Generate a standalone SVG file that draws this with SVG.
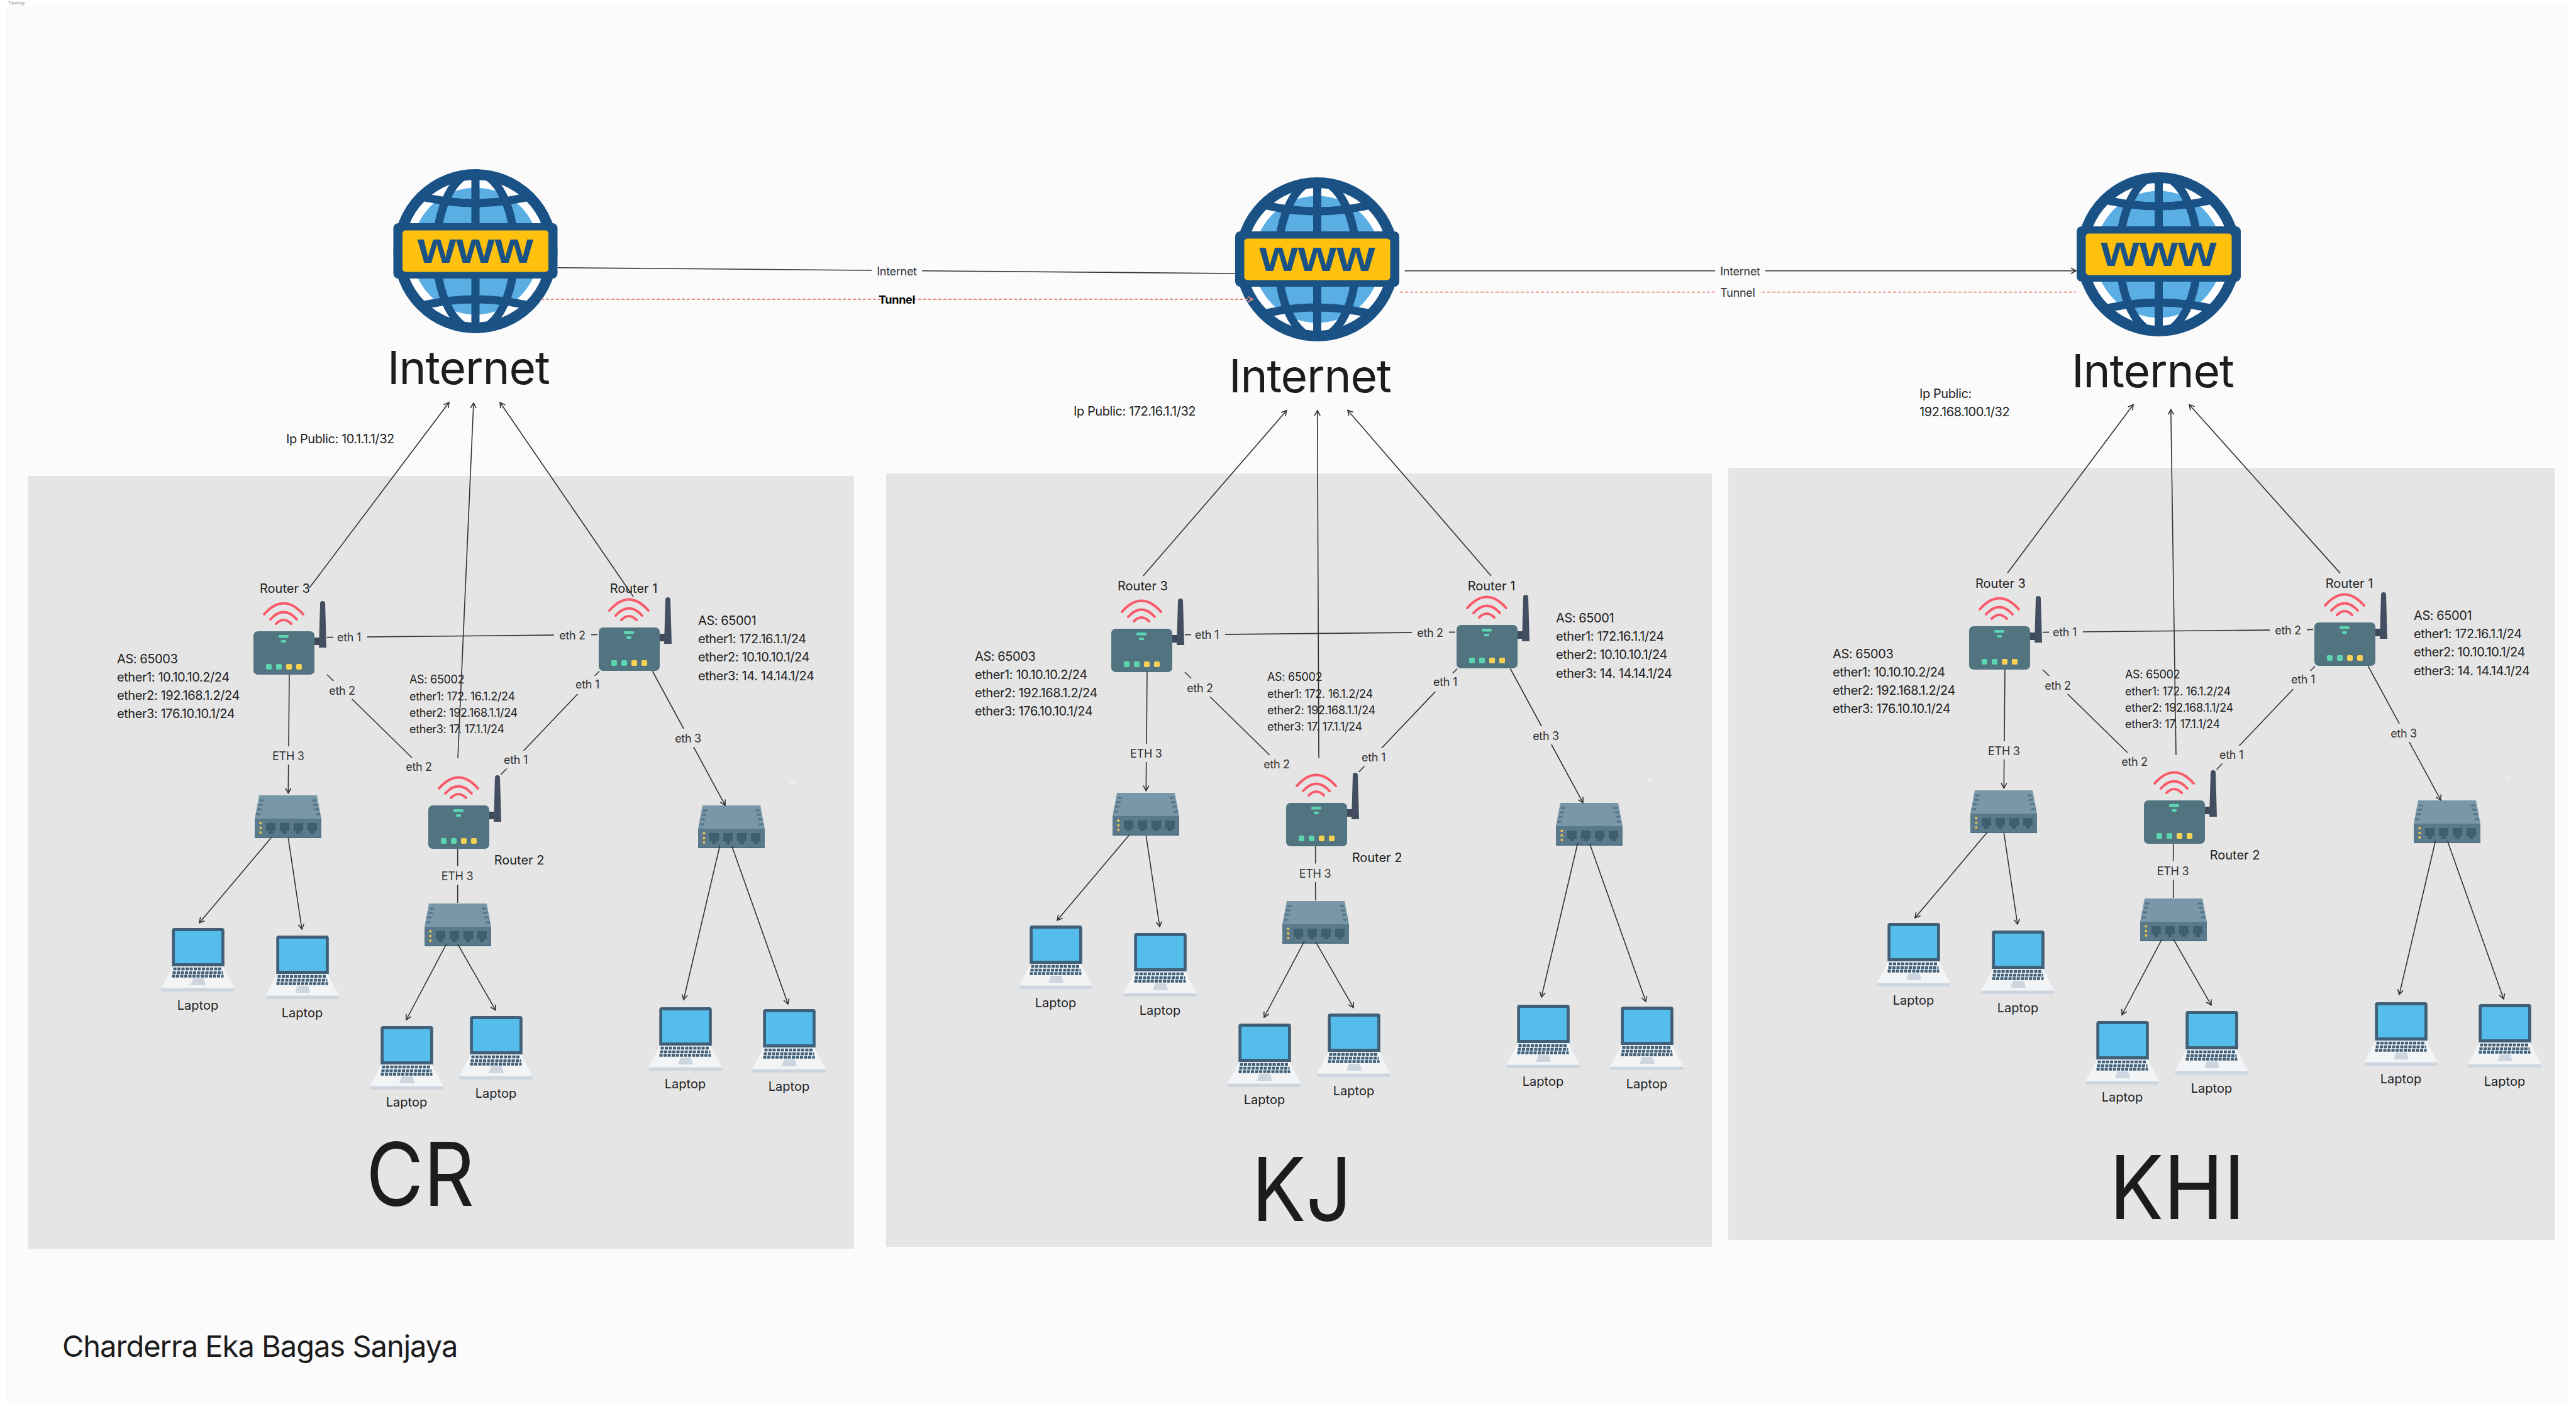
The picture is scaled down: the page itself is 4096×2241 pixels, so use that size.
<svg xmlns="http://www.w3.org/2000/svg" xmlns:xlink="http://www.w3.org/1999/xlink" width="4096" height="2241" viewBox="0 0 4096 2241">
<style>
text{font-family:Inter,"Liberation Sans",sans-serif;fill:#222}
.lb{font-size:20px}
.as{font-size:20px;letter-spacing:-.42px}
.as2{font-size:18px;letter-spacing:-.3px}
.cl{font-size:18px;letter-spacing:-.3px;text-anchor:middle;dominant-baseline:central;fill:#333}
.c{text-anchor:middle}
.big{font-size:73px;letter-spacing:-1.1px;fill:#1c1c1c}
.title{font-size:140px;fill:#1c1c1c}
.ln{stroke:#333;stroke-width:1.6;fill:none}
.arr{marker-end:url(#a)}
.tun{stroke:#e58a80;stroke-width:1.8;stroke-dasharray:5 3;fill:none}
.bg{fill:#e5e5e5}
.bg0{fill:#fbfbfb}
</style>
<defs>
<marker id="a" markerUnits="userSpaceOnUse" markerWidth="14" markerHeight="14" refX="10" refY="7" orient="auto"><path d="M2,2.500L10,7L2,11.500" fill="none" stroke="#333" stroke-width="1.600"/></marker>
<marker id="a2" markerUnits="userSpaceOnUse" markerWidth="14" markerHeight="14" refX="10" refY="7" orient="auto"><path d="M2,2.500L10,7L2,11.500" fill="none" stroke="#e58a80" stroke-width="1.800"/></marker>
<clipPath id="gc"><circle cx="130.500" cy="130.500" r="126"/></clipPath>
<g id="globe">
<circle cx="130.500" cy="130.500" r="126" fill="#fff"/>
<circle cx="130.500" cy="130.500" r="101" fill="#5aaee3"/>
<g clip-path="url(#gc)" fill="none" stroke="#1a5286" stroke-width="13">
<path d="M130.500 0V261"/>
<ellipse cx="130.500" cy="130.500" rx="62" ry="125"/>
<path d="M30 40Q130 68 231 40M30 221Q130 193 231 221"/>
</g>
<circle cx="130.500" cy="130.500" r="122" fill="none" stroke="#1a5286" stroke-width="17"/>
<rect x="0" y="86" width="261" height="88" rx="8" fill="#1a5286"/>
<rect x="14.500" y="97.500" width="232" height="66" rx="5" fill="#ffc10d"/>
<text x="38.500" y="149" textLength="184" lengthAdjust="spacingAndGlyphs" style="font-family:'Liberation Sans',sans-serif;font-weight:700;font-size:70px;fill:#1a5286">www</text>
</g>
<g id="router">
<rect x="96" y="10" width="10" height="12" fill="#3c4a5a"/>
<path d="M106 -44Q106 -48 110 -48Q114 -48 114 -44L116 26H104Z" fill="#434f60"/>
<rect width="97" height="69" rx="7" fill="#527380"/>
<rect x="40" y="6" width="16" height="4.500" rx="1.500" fill="#5bd6b0"/>
<rect x="44" y="14" width="8" height="4" rx="1.500" fill="#5bd6b0"/>
<rect x="20" y="52" width="9" height="9" rx="2" fill="#5bd6b0"/>
<rect x="36" y="52" width="9" height="9" rx="2" fill="#5bd6b0"/>
<rect x="52" y="52" width="9" height="9" rx="2" fill="#f7d154"/>
<rect x="68" y="52" width="9" height="9" rx="2" fill="#f7d154"/>
<path d="M17 -27Q48 -62 79 -27M27 -19Q48 -42 69 -19M36 -12Q48 -24 60 -12" fill="none" stroke="#f95a6a" stroke-width="4" stroke-linecap="round"/>
</g>
<g id="switch">
<path d="M7 0H99L106 37H0Z" fill="#7898aa"/>
<rect y="37" width="106" height="31" fill="#5a7a8c"/>
<rect y="66" width="106" height="2" fill="#4f7083"/>
<path d="M8 8h7M6 15h7M4 22h7M2 30h7M91 8h7M93 15h7M95 22h7M97 30h7" stroke="#567484" stroke-width="3"/>
<path id="p" d="M18 44h15v13h-4v4h-7v-4h-4z" fill="#3d5f6f"/>
<use xlink:href="#p" href="#p" x="22"/><use xlink:href="#p" href="#p" x="44"/><use xlink:href="#p" href="#p" x="66"/>
<circle cx="9.300" cy="44.300" r="2" fill="#f0c34e"/><circle cx="9.300" cy="51.700" r="2" fill="#f0c34e"/><circle cx="9.300" cy="59" r="2" fill="#f0c34e"/>
</g>
<g id="laptop">
<path d="M19 60H98L117 96H0Z" fill="#f3f4f6"/>
<rect y="95.500" width="117" height="5.500" rx="2.500" fill="#cdd6df"/>
<path d="M17.300 61V4Q17.300 0 21.300 0H96.800Q100.800 0 100.800 4V61Z" fill="#3f6078"/>
<rect x="22" y="5" width="74" height="51" fill="#54bdec"/>
<path d="M19.500 65H97.500M18.500 71H98.500M17.500 76.500H99.500" stroke="#3f6078" stroke-width="4.500" stroke-dasharray="5 1.500" fill="none"/>
<path d="M51 80H68L71 91H47Z" fill="#cdd6df"/>
</g>
<g id="conn">
<path class="ln" d="M520 1013.600L950 1009.400"/>
<path class="ln" d="M520 1073L662 1212"/>
<path class="ln" d="M953 1067.500L796.500 1232"/>
<path class="ln arr" d="M460 1072.500L458.300 1261.500"/>
<path class="ln arr" d="M1037.500 1067.500L1153 1280.700"/>
<path class="ln" d="M727.700 1350V1436"/>
<path class="ln arr" d="M431.600 1332L317 1467.700"/>
<path class="ln arr" d="M458.300 1332.700L480 1478"/>
<path class="ln arr" d="M710 1501L646 1622"/>
<path class="ln arr" d="M727.800 1501.700L788 1606.700"/>
<path class="ln arr" d="M1144.600 1345L1087 1590"/>
<path class="ln arr" d="M1163.800 1346L1253 1597"/>
<rect class="bg" x="530" y="1001" width="54" height="25"/><text class="cl" x="555" y="1013.600">eth 1</text>
<rect class="bg" x="881" y="997" width="59" height="25"/><text class="cl" x="910" y="1010">eth 2</text>
<rect class="bg" x="520" y="1083" width="50" height="29"/><text class="cl" x="544" y="1098">eth 2</text>
<rect class="bg" x="642" y="1205" width="48" height="28"/><text class="cl" x="666" y="1219">eth 2</text>
<rect class="bg" x="910" y="1075" width="48" height="29"/><text class="cl" x="934" y="1088.600">eth 1</text>
<rect class="bg" x="796" y="1194" width="48" height="28.500"/><text class="cl" x="820" y="1208">eth 1</text>
<rect class="bg" x="434" y="1187" width="50" height="29"/><text class="cl" x="458.300" y="1202">ETH 3</text>
<rect class="bg" x="702" y="1377.500" width="50" height="29.500"/><text class="cl" x="727" y="1393">ETH 3</text>
<rect class="bg" x="1070" y="1159" width="48" height="29"/><text class="cl" x="1094" y="1174">eth 3</text>
</g>
<path id="chev" d="M-4 -3L0 0L4 -3L4 0L0 3L-4 0Z" fill="#f1f1f1"/>
</defs>
<rect width="4096" height="2241" fill="#fff"/>
<rect x="9" y="9" width="4075" height="2221" fill="#fbfbfb"/>
<text x="13" y="7" style="font-size:6px;fill:#888">Topology</text>
<g id="panels">
<rect x="45" y="757" width="1313" height="1229" fill="#e5e5e5"/>
<rect x="1409" y="753" width="1313" height="1230" fill="#e5e5e5"/>
<rect x="2748" y="744" width="1314" height="1228" fill="#e5e5e5"/>
</g>
<g id="internet-cr"><use href="#globe" x="625.500" y="269"/><text class="big" x="616" y="611">Internet</text></g>
<g id="internet-kj"><use href="#globe" x="1964" y="282"/><text class="big" x="1954" y="624">Internet</text></g>
<g id="internet-khi"><use href="#globe" x="3302" y="274"/><text class="big" x="3294" y="616">Internet</text></g>
<g id="site-cr">
<g id="cr-router3"><use href="#router" x="403" y="1004"/><text class="lb c" x="453" y="943">Router 3</text></g>
<g id="cr-router1"><use href="#router" x="952" y="998"/><text class="lb c" x="1007.500" y="943">Router 1</text></g>
<g id="cr-router2"><use href="#router" x="681" y="1281"/><text class="lb c" x="825.600" y="1375">Router 2</text></g>
<g id="cr-switch1"><use href="#switch" x="405" y="1265"/></g>
<g id="cr-switch2"><use href="#switch" x="675" y="1437"/></g>
<g id="cr-switch3"><use href="#switch" x="1110" y="1281"/></g>
<g id="cr-laptop1"><use href="#laptop" x="256" y="1476"/><text class="lb c" x="314.500" y="1606">Laptop</text></g>
<g id="cr-laptop2"><use href="#laptop" x="422" y="1488"/><text class="lb c" x="480.500" y="1618">Laptop</text></g>
<g id="cr-laptop3"><use href="#laptop" x="588" y="1632"/><text class="lb c" x="646.500" y="1760">Laptop</text></g>
<g id="cr-laptop4"><use href="#laptop" x="730" y="1616"/><text class="lb c" x="788.500" y="1746">Laptop</text></g>
<g id="cr-laptop5"><use href="#laptop" x="1031" y="1602"/><text class="lb c" x="1089.500" y="1731">Laptop</text></g>
<g id="cr-laptop6"><use href="#laptop" x="1196" y="1605"/><text class="lb c" x="1254.500" y="1735">Laptop</text></g>
<g id="cr-as3"><text class="as" x="186" y="1055">AS: 65003</text><text class="as" x="186" y="1084">ether1: 10.10.10.2/24</text><text class="as" x="186" y="1113">ether2: 192.168.1.2/24</text><text class="as" x="186" y="1142">ether3: 176.10.10.1/24</text></g>
<g id="cr-as1"><text class="as" x="1110" y="994">AS: 65001</text><text class="as" x="1110" y="1023">ether1: 172.16.1.1/24</text><text class="as" x="1110" y="1052">ether2: 10.10.10.1/24</text><text class="as" x="1110" y="1082">ether3: 14. 14.14.1/24</text></g>
<g id="cr-as2"><text class="as2" x="651" y="1087">AS: 65002</text><text class="as2" x="651" y="1114">ether1: 172. 16.1.2/24</text><text class="as2" x="651" y="1140">ether2: 192.168.1.1/24</text><text class="as2" x="651" y="1166">ether3: 17. 17.1.1/24</text></g>
<text class="as" x="455" y="705">Ip Public: 10.1.1.1/32</text>
<text class="title" x="582" y="1918" textLength="172" lengthAdjust="spacingAndGlyphs">CR</text>
<use href="#chev" x="1260" y="1245"/>
</g>
<g id="site-kj">
<g transform="translate(1364,-4)">
<g id="kj-router3"><use href="#router" x="403" y="1004"/><text class="lb c" x="453" y="943">Router 3</text></g>
<g id="kj-router1"><use href="#router" x="952" y="998"/><text class="lb c" x="1007.500" y="943">Router 1</text></g>
<g id="kj-router2"><use href="#router" x="681" y="1281"/><text class="lb c" x="825.600" y="1375">Router 2</text></g>
<g id="kj-switch1"><use href="#switch" x="405" y="1265"/></g>
<g id="kj-switch2"><use href="#switch" x="675" y="1437"/></g>
<g id="kj-switch3"><use href="#switch" x="1110" y="1281"/></g>
<g id="kj-laptop1"><use href="#laptop" x="256" y="1476"/><text class="lb c" x="314.500" y="1606">Laptop</text></g>
<g id="kj-laptop2"><use href="#laptop" x="422" y="1488"/><text class="lb c" x="480.500" y="1618">Laptop</text></g>
<g id="kj-laptop3"><use href="#laptop" x="588" y="1632"/><text class="lb c" x="646.500" y="1760">Laptop</text></g>
<g id="kj-laptop4"><use href="#laptop" x="730" y="1616"/><text class="lb c" x="788.500" y="1746">Laptop</text></g>
<g id="kj-laptop5"><use href="#laptop" x="1031" y="1602"/><text class="lb c" x="1089.500" y="1731">Laptop</text></g>
<g id="kj-laptop6"><use href="#laptop" x="1196" y="1605"/><text class="lb c" x="1254.500" y="1735">Laptop</text></g>
<g id="kj-as3"><text class="as" x="186" y="1055">AS: 65003</text><text class="as" x="186" y="1084">ether1: 10.10.10.2/24</text><text class="as" x="186" y="1113">ether2: 192.168.1.2/24</text><text class="as" x="186" y="1142">ether3: 176.10.10.1/24</text></g>
<g id="kj-as1"><text class="as" x="1110" y="994">AS: 65001</text><text class="as" x="1110" y="1023">ether1: 172.16.1.1/24</text><text class="as" x="1110" y="1052">ether2: 10.10.10.1/24</text><text class="as" x="1110" y="1082">ether3: 14. 14.14.1/24</text></g>
<g id="kj-as2"><text class="as2" x="651" y="1087">AS: 65002</text><text class="as2" x="651" y="1114">ether1: 172. 16.1.2/24</text><text class="as2" x="651" y="1140">ether2: 192.168.1.1/24</text><text class="as2" x="651" y="1166">ether3: 17. 17.1.1/24</text></g>
<use href="#chev" x="1260" y="1245"/>
</g>
<text class="as" x="1707" y="661">Ip Public: 172.16.1.1/32</text>
<text class="title" x="1990" y="1942" textLength="160" lengthAdjust="spacingAndGlyphs">KJ</text>
</g>
<g id="site-khi">
<g transform="translate(2728,-8)">
<g id="khi-router3"><use href="#router" x="403" y="1004"/><text class="lb c" x="453" y="943">Router 3</text></g>
<g id="khi-router1"><use href="#router" x="952" y="998"/><text class="lb c" x="1007.500" y="943">Router 1</text></g>
<g id="khi-router2"><use href="#router" x="681" y="1281"/><text class="lb c" x="825.600" y="1375">Router 2</text></g>
<g id="khi-switch1"><use href="#switch" x="405" y="1265"/></g>
<g id="khi-switch2"><use href="#switch" x="675" y="1437"/></g>
<g id="khi-switch3"><use href="#switch" x="1110" y="1281"/></g>
<g id="khi-laptop1"><use href="#laptop" x="256" y="1476"/><text class="lb c" x="314.500" y="1606">Laptop</text></g>
<g id="khi-laptop2"><use href="#laptop" x="422" y="1488"/><text class="lb c" x="480.500" y="1618">Laptop</text></g>
<g id="khi-laptop3"><use href="#laptop" x="588" y="1632"/><text class="lb c" x="646.500" y="1760">Laptop</text></g>
<g id="khi-laptop4"><use href="#laptop" x="730" y="1616"/><text class="lb c" x="788.500" y="1746">Laptop</text></g>
<g id="khi-laptop5"><use href="#laptop" x="1031" y="1602"/><text class="lb c" x="1089.500" y="1731">Laptop</text></g>
<g id="khi-laptop6"><use href="#laptop" x="1196" y="1605"/><text class="lb c" x="1254.500" y="1735">Laptop</text></g>
<g id="khi-as3"><text class="as" x="186" y="1055">AS: 65003</text><text class="as" x="186" y="1084">ether1: 10.10.10.2/24</text><text class="as" x="186" y="1113">ether2: 192.168.1.2/24</text><text class="as" x="186" y="1142">ether3: 176.10.10.1/24</text></g>
<g id="khi-as1"><text class="as" x="1110" y="994">AS: 65001</text><text class="as" x="1110" y="1023">ether1: 172.16.1.1/24</text><text class="as" x="1110" y="1052">ether2: 10.10.10.1/24</text><text class="as" x="1110" y="1082">ether3: 14. 14.14.1/24</text></g>
<g id="khi-as2"><text class="as2" x="651" y="1087">AS: 65002</text><text class="as2" x="651" y="1114">ether1: 172. 16.1.2/24</text><text class="as2" x="651" y="1140">ether2: 192.168.1.1/24</text><text class="as2" x="651" y="1166">ether3: 17. 17.1.1/24</text></g>
<use href="#chev" x="1260" y="1245"/>
</g>
<text class="as" x="3052" y="633">Ip Public:</text><text class="as" x="3052" y="662">192.168.100.1/32</text>
<text class="title" x="3354" y="1939" textLength="216" lengthAdjust="spacingAndGlyphs">KHI</text>
</g>
<g id="connectors">
<path class="ln" d="M887 425.700L1964 435"/>
<path class="tun" style="marker-end:url(#a2)" d="M860 476H1992"/>
<rect class="bg0" x="1386" y="418" width="80" height="26"/><text class="cl" x="1426" y="431">Internet</text>
<rect class="bg0" x="1400" y="464" width="51" height="24"/><text class="cl" x="1426" y="476" style="font-weight:700;fill:#000">Tunnel</text>
<path class="ln arr" d="M2233.600 430.700L3301 430.700"/>
<path class="tun" d="M2226 464.700H3301"/>
<rect class="bg0" x="2727" y="418" width="80" height="26"/><text class="cl" x="2767" y="431">Internet</text>
<rect class="bg0" x="2727" y="453" width="71" height="24"/><text class="cl" x="2763" y="465">Tunnel</text>
<path class="ln arr" d="M492 935L714 640"/><path class="ln arr" d="M728 1206L753 641"/><path class="ln arr" d="M1007 949L795 640"/>
<path class="ln arr" d="M1817.700 916L2045.700 653"/><path class="ln arr" d="M2097 1205.500L2094.700 653"/><path class="ln arr" d="M2371 916L2143 652.500"/>
<path class="ln arr" d="M3192 911.600L3392 643.500"/><path class="ln arr" d="M3460 1201L3451.800 651.400"/><path class="ln arr" d="M3721 911.600L3481 643.500"/>
<use href="#conn"/>
<use href="#conn" transform="translate(1364,-4)"/>
<use href="#conn" transform="translate(2728,-8)"/>
</g>
<text id="author" x="99" y="2158" style="font-size:47px;letter-spacing:-1px;fill:#1c1c1c">Charderra Eka Bagas Sanjaya</text>
</svg>
